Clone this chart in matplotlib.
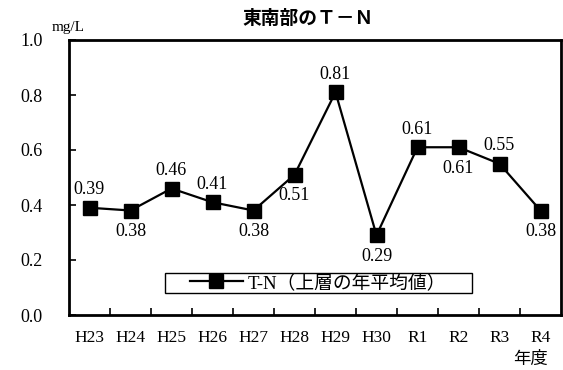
import matplotlib
matplotlib.use("Agg")
import matplotlib.pyplot as plt
from matplotlib.patches import Rectangle

# ============================================================
# DATA
# ============================================================
years = ["H23", "H24", "H25", "H26", "H27", "H28", "H29", "H30", "R1", "R2", "R3", "R4"]
tn = [0.39, 0.38, 0.46, 0.41, 0.38, 0.51, 0.81, 0.29, 0.61, 0.61, 0.55, 0.38]
label_pos = ["up", "down", "up", "up", "down", "down", "up", "down", "up", "down", "up", "down"]
yticks = [0.0, 0.2, 0.4, 0.6, 0.8, 1.0]

SERIF = ["Liberation Serif", "Noto Sans CJK JP"]
JP = ["Noto Sans CJK JP", "DejaVu Sans"]

plt.rcParams["font.family"] = SERIF

W, H = 563, 370
fig = plt.figure(figsize=(W / 100, H / 100), dpi=100)
ax_l, ax_r, ax_t, ax_b = 69, 561, 40, 315
ax = fig.add_axes([ax_l / W, 1 - ax_b / H, (ax_r - ax_l) / W, (ax_b - ax_t) / H])

x = list(range(len(years)))
ax.plot(x, tn, color="black", lw=1.6, marker="s", ms=10,
        label="T-N（上層の年平均値）")

for xi, v, p in zip(x, tn, label_pos):
    if p == "up":
        ax.annotate(f"{v:.2f}", (xi, v), xytext=(0, 7), textcoords="offset points",
                    ha="center", va="bottom", fontsize=13)
    else:
        ax.annotate(f"{v:.2f}", (xi, v), xytext=(0, -9), textcoords="offset points",
                    ha="center", va="top", fontsize=13)

ax.set_xlim(-0.5, len(years) - 0.5)
ax.set_ylim(0, 1.0)
ax.set_yticks(yticks)
ax.set_yticklabels([f"{t:.1f}" for t in yticks], fontsize=13)
ax.set_xticks(x)
ax.set_xticklabels(years, fontsize=12.5)
ax.set_xticks([i + 0.5 for i in x[:-1]], minor=True)
ax.tick_params(axis="x", which="major", length=0, pad=11)
ax.tick_params(axis="x", which="minor", length=5, direction="in", width=1.2)
ax.tick_params(axis="y", length=5, direction="in", width=1.2, pad=19)
for s in ax.spines.values():
    s.set_linewidth(2)

# legend box
pw, ph = ax_r - ax_l, ax_b - ax_t
ax.add_patch(Rectangle(((165 - ax_l) / pw, (ax_b - 293) / ph), 307 / pw, 20 / ph,
                       transform=ax.transAxes, fill=False, lw=1, ec="black",
                       zorder=5))
ax.legend(loc="center left", bbox_to_anchor=((190 - ax_l) / pw, (ax_b - 283) / ph),
          frameon=False, prop={"family": SERIF, "size": 13.5}, handlelength=2.8,
          handletextpad=0.3, borderpad=0, borderaxespad=0)

fig.text(308 / W, 1 - 19 / H, "東南部のＴ－Ｎ", ha="center", va="center",
         fontsize=13.5, fontweight="bold", family=JP)
fig.text(68 / W, 1 - 27 / H, "mg/L", ha="center", va="center", fontsize=11)
fig.text(531 / W, 1 - 359 / H, "年度", ha="center", va="center",
         fontsize=12.5, family=JP)

fig.savefig("out.png", dpi=100)
